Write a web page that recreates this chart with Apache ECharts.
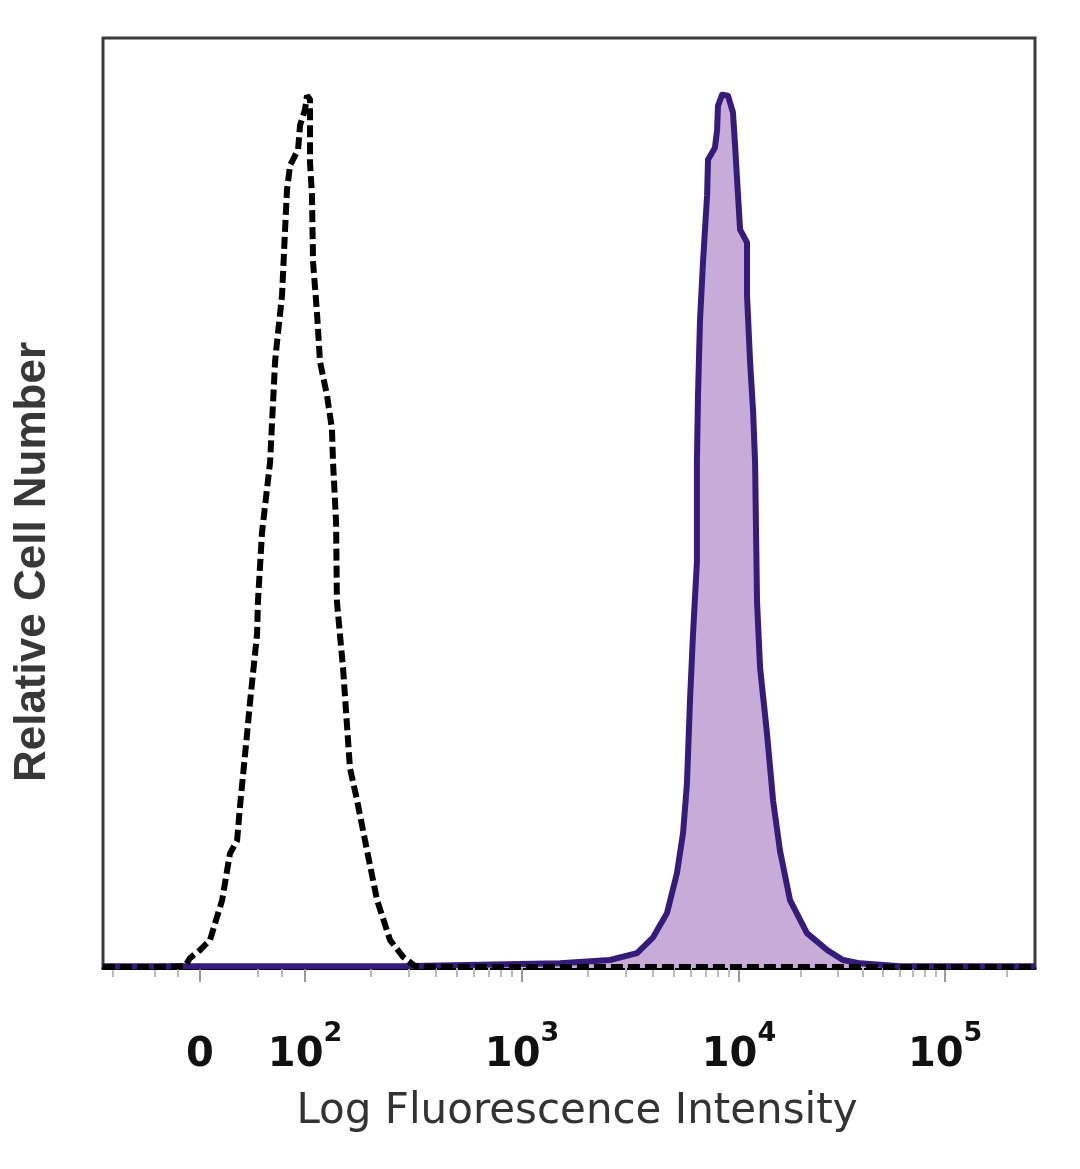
<!DOCTYPE html>
<html>
<head>
<meta charset="utf-8">
<script src="https://cdn.jsdelivr.net/npm/echarts@6/dist/echarts.min.js"></script>
<style>
html,body{margin:0;padding:0;background:#fff;}
#chart{width:1080px;height:1169px;}
</style>
</head>
<body>
<div id="chart"></div>
<script>
// x values are positions on the log (biexponential) display axis, in decades
// (2 = 10^2, 3 = 10^3 ...); y values are relative cell number (% of axis height)

// Isotype control (dashed black)
const isoX = [1.069, 1.286, 1.447, 1.470, 1.516, 1.562, 1.618, 1.654, 1.687, 1.700, 1.733, 1.747, 1.779, 1.783, 1.802, 1.839, 1.862, 1.871, 1.894, 1.908, 1.917, 1.931, 1.968, 1.977, 2.000, 2.009, 2.023, 2.023, 2.023, 2.032, 2.037, 2.055, 2.069, 2.101, 2.124, 2.129, 2.143, 2.147, 2.175, 2.207, 2.240, 2.286, 2.332, 2.392, 2.452, 2.507, 2.668, 3.359, 5.364];
const isoY = [0.1, 0.1, 0.2, 1.07, 1.93, 3.0, 7.3, 12.3, 13.7, 17.3, 25.2, 28.7, 35.9, 39.4, 46.9, 54.4, 65.2, 67.3, 72.3, 79.4, 83.7, 86.3, 88.0, 90.6, 92.3, 93.8, 93.4, 88.7, 86.6, 83.1, 75.9, 70.5, 65.2, 61.6, 58.0, 54.4, 48.0, 39.4, 32.3, 21.5, 18.0, 12.6, 7.3, 3.0, 1.2, 0.2, 0.1, 0.1, 0.1];

// Stained sample (filled purple)
const stainX = [1.069, 2.438, 3.175, 3.406, 3.530, 3.604, 3.668, 3.714, 3.742, 3.760, 3.774, 3.788, 3.806, 3.806, 3.811, 3.820, 3.834, 3.853, 3.857, 3.889, 3.899, 3.903, 3.922, 3.949, 3.972, 3.982, 3.991, 4.005, 4.037, 4.037, 4.051, 4.065, 4.074, 4.083, 4.097, 4.129, 4.157, 4.189, 4.235, 4.313, 4.406, 4.479, 4.558, 4.742, 5.364];
const stainY = [0.2, 0.2, 0.5, 0.86, 1.6, 3.3, 5.9, 10.2, 14.5, 19.8, 28.7, 35.9, 43.7, 54.4, 61.6, 69.5, 75.9, 83.1, 86.9, 88.2, 90.1, 92.7, 93.9, 93.8, 92.0, 88.4, 84.8, 79.4, 78.0, 72.3, 65.2, 59.8, 54.4, 39.4, 32.3, 25.2, 18.0, 12.6, 7.3, 3.75, 1.93, 0.86, 0.5, 0.2, 0.2];

// Axis ticks
const tickPos = [1.516, 2, 3, 4, 4.95];
const tickBase = ['0', '10', '10', '10', '10'];
const tickExp = ['', '2', '3', '4', '5'];
const lowMinorTicks = [1.115, 1.309, 1.415, 1.783, 1.894];
const minorMultipliers = [2, 3, 4, 5, 6, 7, 8, 9];

const xMin = 1.069, xMax = 5.364;

const minorTicks = lowMinorTicks.slice();
for (let k = 1; k < tickPos.length - 1; k++) {
  const a = tickPos[k], b = tickPos[k + 1];
  minorMultipliers.forEach(m => minorTicks.push(a + (b - a) * Math.log10(m)));
}
const lastDec = tickPos[4] - tickPos[3];
minorMultipliers.forEach(m => {
  const v = tickPos[4] + lastDec * Math.log10(m);
  if (v < xMax) minorTicks.push(v);
});

const chart = echarts.init(document.getElementById('chart'), null, {renderer: 'canvas'});

chart.setOption({
  animation: false,
  backgroundColor: '#ffffff',
  grid: {
    left: 103, right: 45, top: 38, bottom: 201,
    show: true, borderColor: '#3a3a3a', borderWidth: 3,
    outerBoundsMode: 'none'
  },
  xAxis: [{
    type: 'value', min: xMin, max: xMax, position: 'bottom',
    axisLine: {show: true, lineStyle: {color: '#000', width: 3}},
    splitLine: {show: false},
    axisTick: {show: true, customValues: tickPos, length: 14, lineStyle: {color: '#999', width: 2}},
    axisLabel: {
      show: true, customValues: tickPos, margin: 52,
      formatter: function (v) {
        let i = 0, best = Infinity;
        tickPos.forEach((p, j) => { const d = Math.abs(p - v); if (d < best) { best = d; i = j; } });
        return tickExp[i] ? '{b|' + tickBase[i] + '}{s|' + tickExp[i] + '}' : '{b|' + tickBase[i] + '}';
      },
      rich: {
        b: {fontFamily: 'DejaVu Sans', fontWeight: 'bold', fontSize: 40, lineHeight: 56, verticalAlign: 'bottom', color: '#111'},
        s: {fontFamily: 'DejaVu Sans', fontWeight: 'bold', fontSize: 27, lineHeight: 27, verticalAlign: 'top', color: '#111'}
      }
    }
  }, {
    type: 'value', min: xMin, max: xMax, position: 'bottom',
    axisLine: {show: false},
    splitLine: {show: false},
    axisLabel: {show: false},
    axisTick: {show: true, customValues: minorTicks, length: 9, lineStyle: {color: '#bbb', width: 2}}
  }],
  yAxis: {
    type: 'value', min: 0, max: 100,
    axisLine: {show: false}, axisTick: {show: false},
    axisLabel: {show: false}, splitLine: {show: false}
  },
  series: [{
    name: 'Stained', type: 'line', xAxisIndex: 0,
    data: stainX.map((x, i) => [x, stainY[i]]),
    showSymbol: false, smooth: false, z: 2,
    lineStyle: {color: '#351b7a', width: 6, join: 'round'},
    areaStyle: {color: '#c8acd8', opacity: 1}
  }, {
    name: 'Isotype control', type: 'line', xAxisIndex: 0,
    data: isoX.map((x, i) => [x, isoY[i]]),
    showSymbol: false, smooth: false, z: 3,
    lineStyle: {color: '#000', width: 6, type: [12, 5]}
  }],
  graphic: [{
    type: 'text', x: 577, y: 1112,
    style: {text: 'Log Fluorescence Intensity', fontFamily: 'DejaVu Sans', fontSize: 42, fill: '#333', align: 'center', verticalAlign: 'middle'}
  }, {
    type: 'text', x: 33, y: 562, rotation: Math.PI / 2,
    style: {text: 'Relative Cell Number', fontFamily: 'Liberation Sans', fontWeight: 'bold', fontSize: 44, fill: '#383838', align: 'center', verticalAlign: 'middle'}
  }]
});
</script>
</body>
</html>
